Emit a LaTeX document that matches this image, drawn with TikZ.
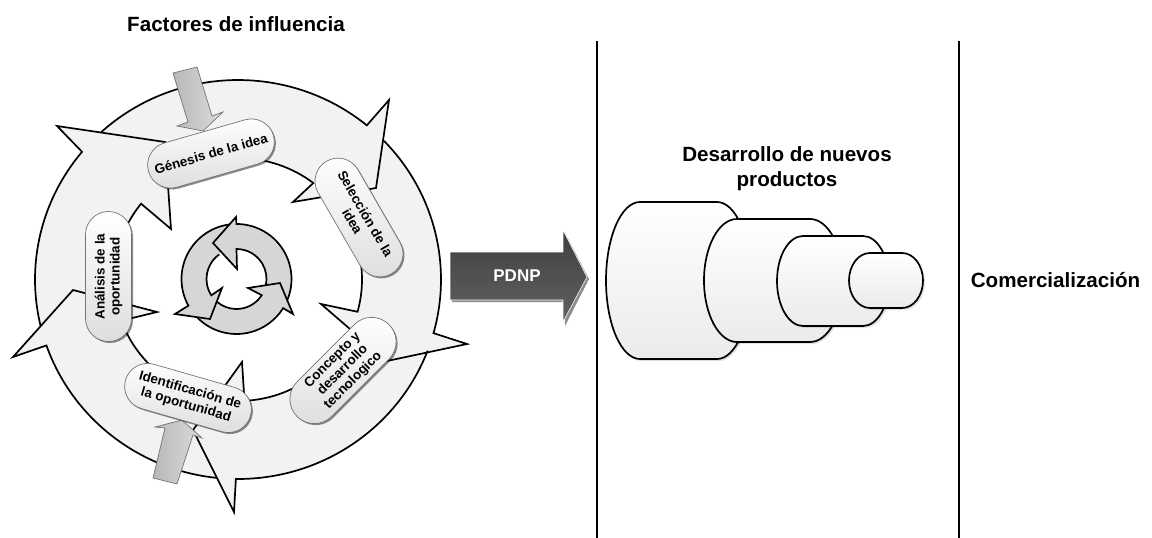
\documentclass[tikz,border=0pt]{standalone}
\usepackage{fontspec}
\setmainfont{Liberation Sans}
\usetikzlibrary{shapes.misc,shadows}

\tikzset{
    bigfill/.style={fill=black!5},
    smallfill/.style={fill=black!16},
    ringline/.style={draw=black, line width=1.7pt, line join=miter, miter limit=10},
    stagepill/.style={rounded rectangle, minimum width=130pt, minimum height=46pt, inner sep=0pt,
        draw=black!55, line width=0.7pt, top color=white, bottom color=black!13, align=center,
        font=\fontsize{13.4}{15}\selectfont\bfseries,
        drop shadow={shadow xshift=1.5pt, shadow yshift=-1.5pt, fill=black, opacity=0.45}},
    influence/.style={draw=black!55, line width=0.7pt, left color=black!28, right color=black!14},
    tube/.style={draw=black, line width=1.7pt, top color=white, bottom color=black!8},
    title/.style={font=\fontsize{20.6}{25}\selectfont\bfseries, align=center},
}

% one ring segment, angles and radii come from the loop around it
\newcommand{\ringpiece}[1]{
    \path[#1] ([shift={(\cx,\cy)}]\ta:{\rxo} and {\ryo})
        arc[start angle=\ta, end angle=\tb, x radius=\rxo, y radius=\ryo]
        -- (\ox,\oy) -- (\tx,\ty) -- (\ix,\iy)
        -- ([shift={(\cx,\cy)}]\na:{\rxi} and {\ryi})
        arc[start angle=\na, end angle=\nb, x radius=\rxi, y radius=\ryi];
}

\begin{document}
\begin{tikzpicture}[x=1pt, y=-1pt]
    \useasboundingbox (0,0) rectangle (1152,538);

    % big ring
    \def\cx{238}\def\cy{279.5}\def\rxo{203}\def\ryo{199.5}\def\rxi{124}\def\ryi{121.5}
    \foreach \act in {bigfill, ringline} {
        \foreach \ta/\tb/\ox/\oy/\tx/\ty/\ix/\iy/\na/\nb in {
            227.6/309.4/389/100/376/188/293/202/307.4/235,
            316/375.6/467/344/387/361/321/304/375.4/316.8,
            20.9/90.6/234/512/193/430/242/362/87/24,
            96/160.7/13/357/73/290/157/312/160.2/100.9,
            166.6/219.8/57/126/165/142/171/229/218.6/170
        } {
            \ringpiece{\act}
        }
    }

    % small ring in the middle
    \def\cx{236.5}\def\cy{279}\def\rxo{55}\def\ryo{55}\def\rxi{30}\def\ryi{30}
    \foreach \act in {smallfill, ringline} {
        \foreach \ta/\tb/\ox/\oy/\tx/\ty/\ix/\iy/\na/\nb in {
            22.6/-90/236/217/213/243/237/269/-90/11.5,
            263/151/175/314/210/319/222/288/147/235,
            135/32/293/314/280/283/248/288/32.7/130
        } {
            \ringpiece{\act}
        }
    }

    % arrows coming in from outside
    \draw[influence] (173,73) -- (197,67) -- (212,116) -- (223,112) -- (203,131) -- (177,126) -- (188,122) -- cycle;
    \draw[influence] (153,478) -- (177,484) -- (193,435) -- (202,438) -- (182,420) -- (155,427) -- (165,428) -- cycle;

    \node[stagepill, rotate=16] (genesis) at (211,153.5) {Génesis de la idea};
    \node[stagepill, rotate=-60] (seleccion) at (359,217.5) {Selección de la\\idea};
    \node[stagepill, rotate=45, minimum height=49pt, font=\fontsize{13.4}{14.5}\selectfont\bfseries] (concepto) at (343,370.5) {Concepto y\\desarrollo\\tecnologico};
    \node[stagepill, rotate=-16] (identificacion) at (188,398) {Identificación de\\la oportunidad};
    \node[stagepill, rotate=90] (analisis) at (108.5,276.5) {Análisis de la\\oportunidad};

    % process arrow
    \fill[black!45] (452,302) -- (565,302) -- (565,326) -- (589,279) -- (565,233) -- (565,254) -- (452,254) -- cycle;
    \path[draw=white, line width=0.6pt, top color=black!75, bottom color=black!62]
        (450,252) -- (563,252) -- (563,230) -- (587,277) -- (563,322) -- (563,300) -- (450,300) -- cycle;
    \node[text=white, font=\fontsize{17}{19}\selectfont\bfseries] (pdnp) at (517,275.5) {PDNP};

    % stage separators
    \coordinate (sepatop) at (597,41);
    \coordinate (sepabot) at (597,538);
    \coordinate (sepbtop) at (959,41);
    \coordinate (sepbbot) at (959,538);
    \draw[line width=1.7pt] (sepatop) -- (sepabot);
    \draw[line width=1.7pt] (sepbtop) -- (sepbbot);

    % nested tubes, biggest first
    \foreach \lx/\rx/\ty/\by/\ax in {640/717/202/359/34, 737/810/219/342/33, 803/863/236/326/26, 870/902/253/308/21} {
        \path[tube, drop shadow={shadow xshift=2pt, shadow yshift=-2pt, fill=black, opacity=0.12}]
            (\lx,\ty) -- (\rx,\ty)
            arc[start angle=-90, end angle=90, x radius=\ax, y radius=(\by-\ty)/2]
            -- (\lx,\by)
            arc[start angle=90, end angle=270, x radius=\ax, y radius=(\by-\ty)/2] -- cycle;
    }

    \node[title] (factores) at (236,24) {Factores de influencia};
    \node[title] (desarrollo) at (787,169) {Desarrollo de nuevos\\productos};
    \node[title] (comercial) at (1055.5,280) {Comercialización};
\end{tikzpicture}
\end{document}
